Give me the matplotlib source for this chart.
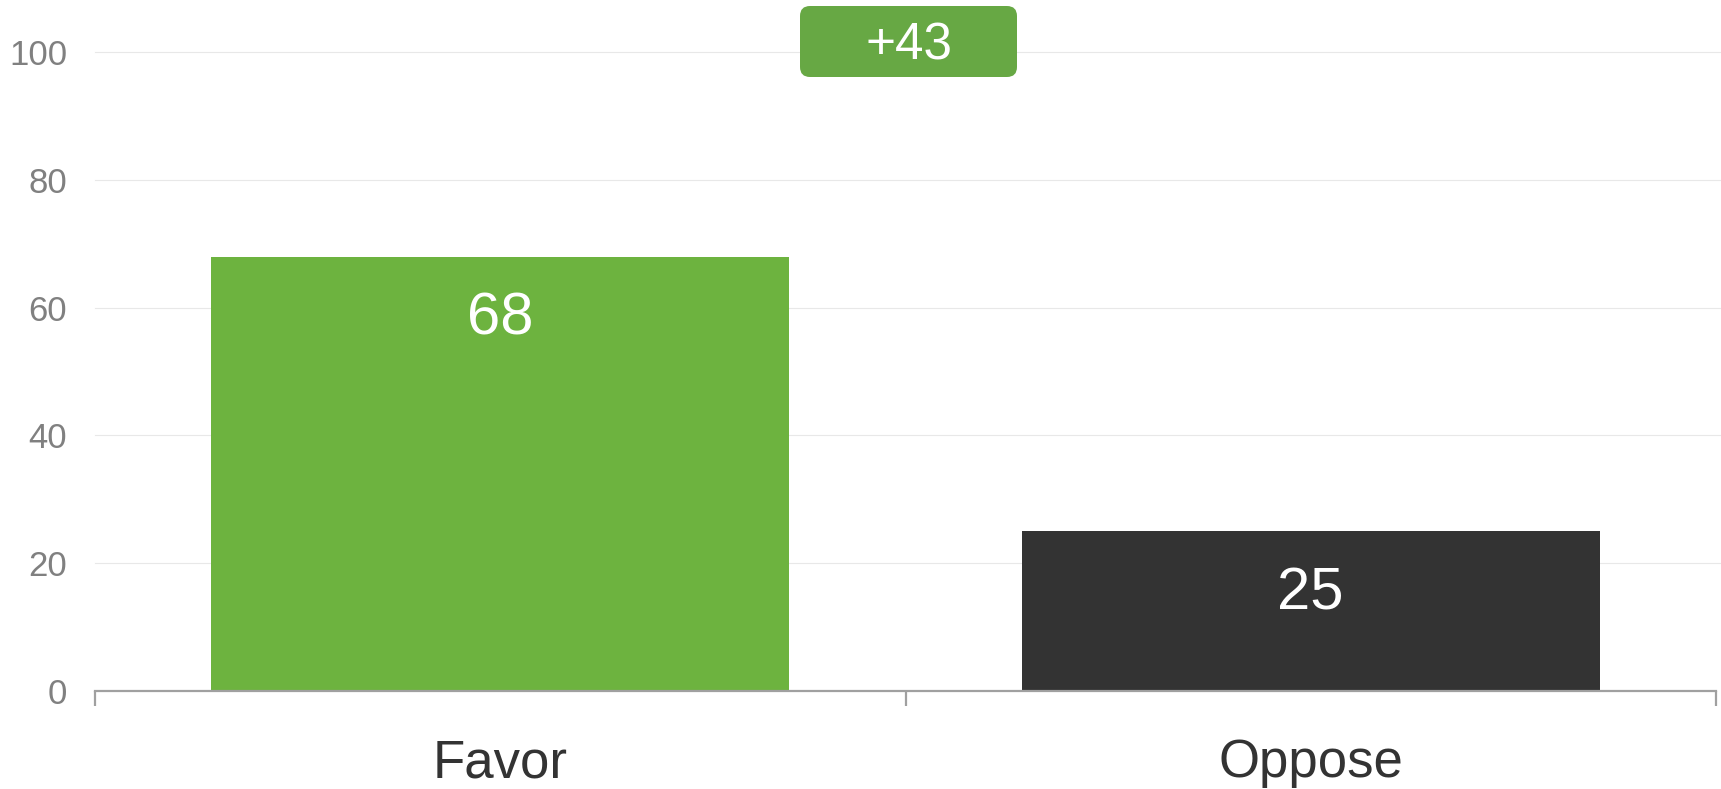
import matplotlib
matplotlib.use("Agg")
import matplotlib.pyplot as plt
from matplotlib.patches import FancyBboxPatch

plt.rcParams['font.family'] = ['Liberation Sans', 'DejaVu Sans']

# Survey results
categories = ["Favor", "Oppose"]
values = [68, 25]
bar_colors = ["#6db33f", "#333333"]
yticks = [0, 20, 40, 60, 80, 100]

DPI = 100
fig = plt.figure(figsize=(17.21, 7.89), dpi=DPI)
ax = fig.add_axes([95 / 1721, 1 - 691 / 789, (1716 - 95) / 1721, (691 - 52.2) / 789])

x = list(range(len(categories)))
ax.bar(x, values, width=0.713, color=bar_colors, zorder=2)

ax.set_xlim(-0.5, len(categories) - 0.5)
ax.set_ylim(0, 100)

# Horizontal gridlines running to the right edge of the figure
for t in yticks[1:]:
    ax.axhline(t, xmin=0, xmax=1.004, color="#e8e8e8", lw=0.8, zorder=0, clip_on=False)

# Spines
for s in ["top", "right", "left"]:
    ax.spines[s].set_visible(False)
ax.spines["bottom"].set_color("#a0a0a0")
ax.spines["bottom"].set_linewidth(1.6)
ax.spines["bottom"].set_zorder(3)

# Y axis labels
ax.set_yticks(yticks)
ax.set_yticklabels([str(t) for t in yticks])
ax.tick_params(axis="y", length=0, pad=20, labelsize=25, labelcolor="#808080")

# Category boundaries carry the tick marks, labels sit between them
ax.set_xticks([i - 0.5 for i in range(len(categories) + 1)])
ax.set_xticklabels([])
ax.tick_params(axis="x", which="major", length=11, width=1.6, color="#a0a0a0")
ax.set_xticks(x, minor=True)
ax.set_xticklabels(categories, minor=True)
ax.tick_params(axis="x", which="minor", length=0, pad=34, labelsize=38, labelcolor="#333333")

# Value labels inside bars
for xi, v in zip(x, values):
    ax.annotate(str(v), xy=(xi, v), xytext=(0, -45), textcoords="offset points",
                ha="center", va="center", color="white", fontsize=43, zorder=4)

# Net difference badge
diff = values[0] - values[1]
bx0, by0, bw, bh = 800, 789 - 77, 217, 71
badge = FancyBboxPatch((bx0 + 10, by0 + 10), bw - 20, bh - 20,
                       boxstyle="round,pad=10,rounding_size=10",
                       transform=None, facecolor="#67a844", edgecolor="none",
                       zorder=5, clip_on=False)
fig.patches.append(badge)
fig.text((bx0 + bw / 2) / 1721, (by0 + bh / 2 - 5) / 789, f"+{diff}",
         ha="center", va="center", color="white", fontsize=37, zorder=6)

fig.savefig("out.png", dpi=DPI)
